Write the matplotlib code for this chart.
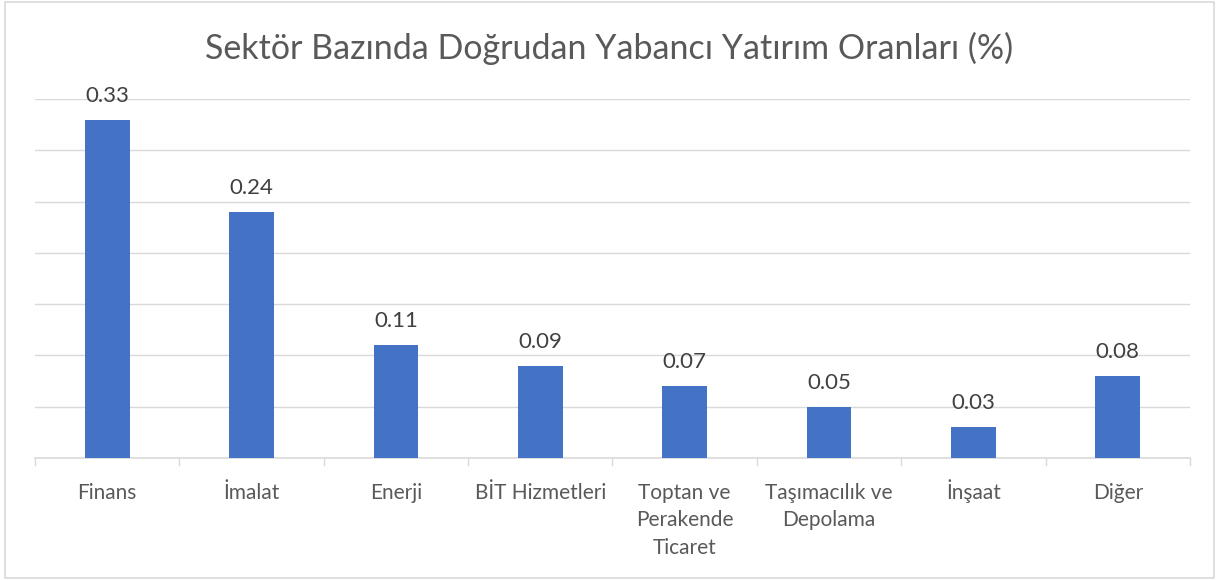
import matplotlib

matplotlib.use("Agg")
import matplotlib.pyplot as plt  # noqa: E402
from matplotlib.patches import Rectangle  # noqa: E402

plt.rcParams["font.family"] = ["Lato", "DejaVu Sans"]

sectors = [
    "Finans",
    "İmalat",
    "Enerji",
    "BİT Hizmetleri",
    "Toptan ve\nPerakende\nTicaret",
    "Taşımacılık ve\nDepolama",
    "İnşaat",
    "Diğer",
]
shares = [0.33, 0.24, 0.11, 0.09, 0.07, 0.05, 0.03, 0.08]
grid_levels = [0.05, 0.10, 0.15, 0.20, 0.25, 0.30, 0.35]

BAR = "#4472C4"
GRID = "#D9D9D9"
TEXT = "#595959"

fig = plt.figure(figsize=(12.19, 5.8), dpi=100)
fig.patches.append(Rectangle((0.004, 0.003), 0.992, 0.994, transform=fig.transFigure,
                             fill=False, edgecolor=GRID, lw=1.2))
ax = fig.add_axes([0.0287, 0.2103, 0.9475, 0.619])

x = list(range(len(sectors)))
ax.bar(x, shares, width=0.31, color=BAR, zorder=3)
for xi, v in zip(x, shares):
    ax.text(xi, v + 0.0135, f"{v:.2f}", ha="center", va="bottom",
            fontsize=16, color="#404040", zorder=4)

for g in grid_levels:
    ax.axhline(g, color=GRID, lw=1, zorder=1)

ax.set_xlim(-0.5, len(sectors) - 0.5)
ax.set_ylim(0, 0.35)
ax.set_yticks([])
ax.set_xticks(x)
ax.set_xticklabels([])
ax.tick_params(axis="x", length=0)
# category labels drawn line by line so every first line sits on the same baseline
for xi, name in zip(x, sectors):
    for j, line in enumerate(name.split("\n")):
        ax.annotate(line, xy=(xi, 0), xycoords=("data", "axes fraction"),
                    xytext=(0, -29.5 - 19.8 * j), textcoords="offset points",
                    ha="center", va="baseline", fontsize=15, color=TEXT)
for b in [i - 0.5 for i in range(len(sectors) + 1)]:
    ax.plot([b, b], [0, -0.007], color=GRID, lw=1, clip_on=False)
for side in ("top", "right", "left"):
    ax.spines[side].set_visible(False)
ax.spines["bottom"].set_color(GRID)
ax.spines["bottom"].set_linewidth(1.2)

fig.text(0.5, 0.917, "Sektör Bazında Doğrudan Yabancı Yatırım Oranları (%)",
         ha="center", va="center", fontsize=24.5, color=TEXT)

fig.savefig("out.png", dpi=100)
